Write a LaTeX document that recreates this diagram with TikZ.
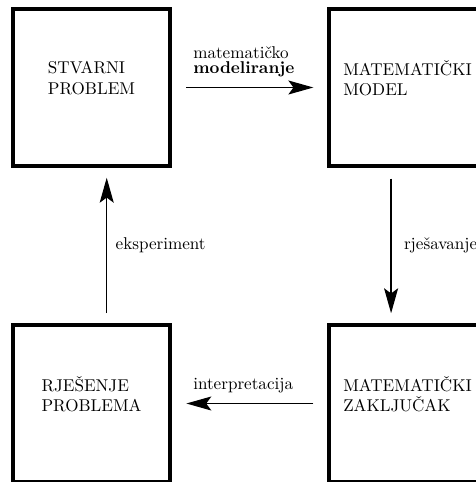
\documentclass[tikz,border=0pt]{standalone}
\usepackage{tikz}
\usetikzlibrary{positioning,arrows.meta}

\begin{document}
\begin{tikzpicture}[
  x=0.585pt, y=-0.585pt,
  every node/.style={font=\fontsize{10}{12}\selectfont},
  box/.style={
    draw, line width=2pt, minimum width=91.8pt, minimum height=91.8pt,
    align=left, inner sep=0pt, text depth=11.2pt,
  },
  lbl/.style={inner sep=0pt, align=left},
  arrow/.style={-{Stealth[length=14.6pt, width=8.2pt, inset=3pt]}, line width=0.7pt},
]
  \useasboundingbox (0,0) rectangle (476,482);

  \node[box] (stvarni)   at (91.5, 87.5)   {STVARNI\\PROBLEM};
  \node[box] (model)     at (407.5, 87.5)  {MATEMATIČKI\\MODEL};
  \node[box] (rjesenje)  at (91.5, 403.5)  {RJEŠENJE\\PROBLEMA};
  \node[box] (zakljucak) at (407.5, 403.5) {MATEMATIČKI\\ZAKLJUČAK};

  \draw[arrow, shorten <=8.6pt, shorten >=8.2pt] (stvarni) -- (model)
    node[lbl, pos=0, anchor=south west, xshift=12.3pt, yshift=5.6pt,
         font=\fontsize{10}{9.2}\selectfont] {matematičko\\\textbf{modeliranje}};

  \draw[arrow, shorten <=6.4pt, shorten >=5.9pt]
    ([xshift=-9.6pt]model.south) -- ([xshift=-9.6pt]zakljucak.north)
    node[lbl, midway, anchor=west, xshift=7.2pt] {rješavanje};

  \draw[arrow, shorten <=8.2pt, shorten >=8.6pt] (zakljucak) -- (rjesenje)
    node[lbl, pos=1, anchor=south west, xshift=12.3pt, yshift=5.8pt] {interpretacija};

  \draw[arrow, shorten <=5.9pt, shorten >=5.9pt]
    ([xshift=8.9pt]rjesenje.north) -- ([xshift=8.9pt]stvarni.south)
    node[lbl, midway, anchor=west, xshift=4.9pt] {eksperiment};
\end{tikzpicture}
\end{document}
